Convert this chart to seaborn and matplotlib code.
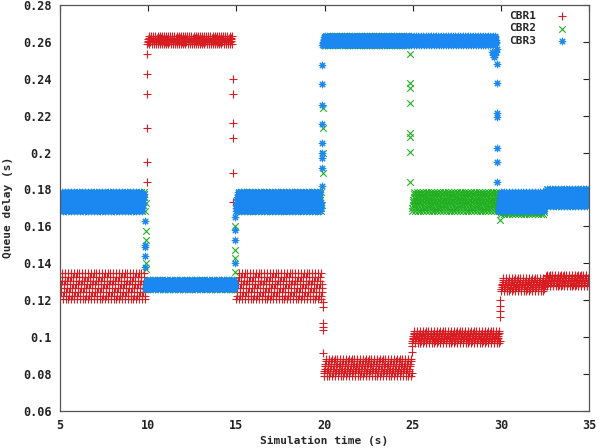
import numpy as np
import pandas as pd
import matplotlib
matplotlib.use('Agg')
import matplotlib.pyplot as plt
from matplotlib.ticker import FuncFormatter
import seaborn as sns

# packet spacing used inside every plateau (s)
dt = 0.02

# ---- CBR1: plateaus (start, end) and the delay levels the queue cycles through
cbr1_starts = [5.0, 9.95, 15.0, 19.95, 24.95, 30.0, 32.45]
cbr1_ends = [9.85, 14.75, 19.9, 24.95, 29.95, 32.45, 35.0]
cbr1_levels = [
    [0.1205, 0.1225, 0.1245, 0.1265, 0.1285, 0.1305, 0.1325, 0.1345],
    [0.2590, 0.2598, 0.2606, 0.2614, 0.2622, 0.2630],
    [0.1205, 0.1225, 0.1245, 0.1265, 0.1285, 0.1305, 0.1325, 0.1345],
    [0.0790, 0.0803, 0.0816, 0.0829, 0.0842, 0.0855, 0.0868, 0.0880],
    [0.0970, 0.0979, 0.0988, 0.0997, 0.1006, 0.1015, 0.1024, 0.1032],
    [0.1250, 0.1260, 0.1270, 0.1280, 0.1290, 0.1300, 0.1310, 0.1318],
    [0.1275, 0.1284, 0.1293, 0.1302, 0.1311, 0.1320, 0.1329, 0.1337],
]
cbr1_jump_t = [9.93, 9.93, 9.93, 9.93, 9.93, 9.93,
               14.8, 14.8, 14.8, 14.8, 14.8, 14.8,
               19.9, 19.9, 19.9, 19.9, 19.9, 19.9,
               24.95, 24.95, 29.95, 29.95, 29.95, 29.95]
cbr1_jump_d = [0.184, 0.195, 0.2135, 0.2316, 0.2426, 0.2534,
               0.240, 0.2317, 0.216, 0.208, 0.189, 0.173,
               0.119, 0.116, 0.1077, 0.1055, 0.1038, 0.0914,
               0.092, 0.095, 0.111, 0.114, 0.117, 0.120]

# ---- CBR2
cbr2_starts = [5.0, 9.85, 15.0, 19.95, 24.95, 30.0, 32.45]
cbr2_ends = [9.8, 14.9, 19.85, 24.8, 29.95, 32.45, 35.0]
cbr2_levels = [
    [0.1685, 0.1700, 0.1715, 0.1730, 0.1745, 0.1760, 0.1775, 0.1788],
    [0.1262, 0.1270, 0.1278, 0.1286, 0.1294, 0.1302, 0.1310],
    [0.1685, 0.1700, 0.1715, 0.1730, 0.1745, 0.1760, 0.1775, 0.1788],
    [0.2585, 0.2593, 0.2601, 0.2609, 0.2617, 0.2625, 0.2633],
    [0.1685, 0.1700, 0.1715, 0.1730, 0.1745, 0.1760, 0.1775, 0.1788],
    [0.1665, 0.1678, 0.1691, 0.1704, 0.1717, 0.1730, 0.1743, 0.1755],
    [0.1712, 0.1725, 0.1738, 0.1751, 0.1764, 0.1777, 0.1790, 0.1805],
]
cbr2_jump_t = [9.85, 9.85, 9.85, 9.85, 9.85,
               14.92, 14.92, 14.92, 14.92,
               19.9, 19.9, 19.9, 19.9,
               24.82, 24.82, 24.82, 24.82, 24.82, 24.82, 24.82, 24.82,
               29.95]
cbr2_jump_d = [0.1727, 0.1575, 0.1527, 0.1402, 0.137,
               0.160, 0.1472, 0.143, 0.135,
               0.2242, 0.2133, 0.1998, 0.189,
               0.2534, 0.2377, 0.235, 0.2269, 0.2106, 0.2085, 0.2003, 0.184,
               0.1635]

# ---- CBR3
cbr3_starts = [5.0, 9.83, 14.95, 19.88, 29.85, 32.45]
cbr3_ends = [9.78, 14.95, 19.83, 29.75, 32.45, 35.0]
cbr3_levels = [
    [0.1685, 0.1700, 0.1715, 0.1730, 0.1745, 0.1760, 0.1775, 0.1788],
    [0.1262, 0.1270, 0.1278, 0.1286, 0.1294, 0.1302, 0.1310],
    [0.1685, 0.1700, 0.1715, 0.1730, 0.1745, 0.1760, 0.1775, 0.1788],
    [0.2585, 0.2593, 0.2601, 0.2609, 0.2617, 0.2625, 0.2633],
    [0.1685, 0.1700, 0.1715, 0.1730, 0.1745, 0.1760, 0.1775, 0.1788],
    [0.1712, 0.1725, 0.1738, 0.1751, 0.1764, 0.1777, 0.1790, 0.1805],
]
cbr3_jump_t = [9.83, 9.83, 9.83, 9.83, 9.83,
               14.9, 14.9, 14.9, 14.9,
               19.88, 19.88, 19.88, 19.88, 19.88, 19.88, 19.88, 19.88, 19.88,
               29.5, 29.55, 29.6, 29.65, 29.7,
               29.8, 29.8, 29.8, 29.8, 29.8, 29.8, 29.8, 29.8]
cbr3_jump_d = [0.163, 0.150, 0.149, 0.144, 0.138,
               0.165, 0.158, 0.1527, 0.140,
               0.2475, 0.2372, 0.2258, 0.2155, 0.2052, 0.200, 0.197, 0.1917, 0.182,
               0.2545, 0.2530, 0.2520, 0.2530, 0.2545,
               0.256, 0.248, 0.2377, 0.2215, 0.2193, 0.2025, 0.195, 0.184]


def build(starts, ends, levels, jump_t, jump_d, name):
    t, d = [], []
    for s, e, lv in zip(starts, ends, levels):
        ts = np.arange(s, e, dt)
        t.extend(ts)
        d.extend(np.resize(lv, len(ts)))
    t.extend(jump_t)
    d.extend(jump_d)
    return pd.DataFrame({'time': t, 'delay': d, 'flow': name})


cbr1 = build(cbr1_starts, cbr1_ends, cbr1_levels, cbr1_jump_t, cbr1_jump_d, 'CBR1')
cbr2 = build(cbr2_starts, cbr2_ends, cbr2_levels, cbr2_jump_t, cbr2_jump_d, 'CBR2')
cbr3 = build(cbr3_starts, cbr3_ends, cbr3_levels, cbr3_jump_t, cbr3_jump_d, 'CBR3')

sns.set_style('white')
plt.rcParams['font.family'] = ['DejaVu Sans Mono']
plt.rcParams['font.weight'] = 'bold'

fig = plt.figure(figsize=(6, 4.48), dpi=100)
ax = fig.add_axes([0.1, 0.083, 0.882, 0.906])

sns.scatterplot(data=cbr1, x='time', y='delay', marker='+', color='#d81c22',
                s=30, linewidth=0.8, label='CBR1', ax=ax)
sns.scatterplot(data=cbr2, x='time', y='delay', marker='x', color='#22b022',
                s=22, linewidth=0.8, label='CBR2', ax=ax)
sns.scatterplot(data=cbr3, x='time', y='delay', marker=(8, 2, 0), color='#1a88f0',
                s=22, linewidth=0.8, label='CBR3', ax=ax)

ax.set_xlim(5, 35)
ax.set_ylim(0.06, 0.28)
ax.set_xticks(np.arange(5, 36, 5))
ax.set_yticks(np.arange(0.06, 0.2801, 0.02))
ax.yaxis.set_major_formatter(FuncFormatter(lambda v, p: '%g' % round(v, 2)))
ax.tick_params(direction='in', length=4, width=0.8, top=True, right=True,
               labelsize=8.5, colors='#222222', pad=6)
for sp in ax.spines.values():
    sp.set_color('#555555')
    sp.set_linewidth(0.9)

ax.set_xlabel('Simulation time (s)', fontsize=8, fontweight='bold', labelpad=3)
ax.set_ylabel('Queue delay (s)', fontsize=8, fontweight='bold', labelpad=7)

ax.legend(loc='upper right', bbox_to_anchor=(0.985, 1.005), frameon=False,
          markerfirst=False, fontsize=8, handletextpad=1.4,
          labelspacing=0.25, borderaxespad=0.3)

plt.savefig('out.png', dpi=100)
